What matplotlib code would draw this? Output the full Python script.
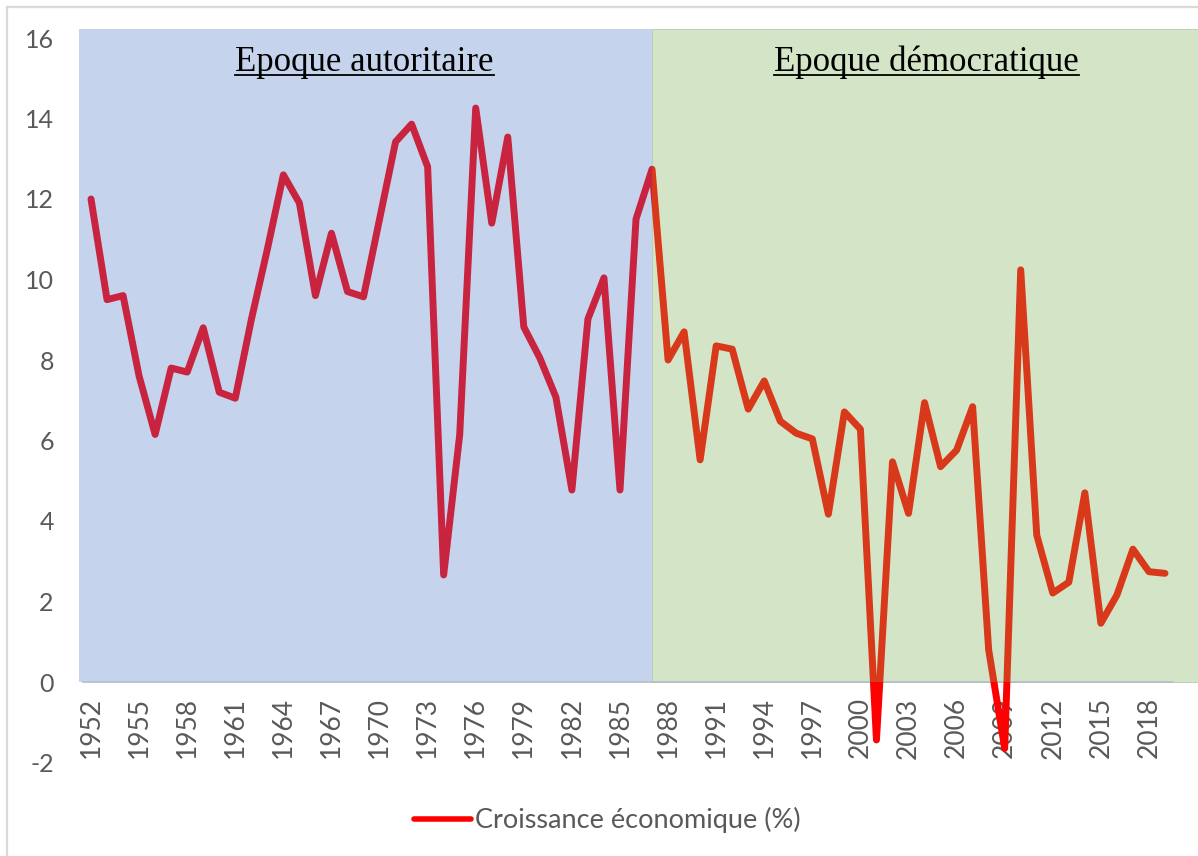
import matplotlib
matplotlib.use("Agg")
import matplotlib.pyplot as plt
from matplotlib.patches import Rectangle
from matplotlib.lines import Line2D

# croissance annuelle du PIB (%)
years = list(range(1952, 2020))
growth = [12.0, 9.5, 9.6, 7.6, 6.15, 7.8, 7.7, 8.8, 7.2, 7.05,
          9.0, 10.75, 12.6, 11.9, 9.6, 11.15, 9.7, 9.57, 11.5, 13.42,
          13.86, 12.8, 2.66, 6.14, 14.26, 11.4, 13.54, 8.82, 8.05, 7.08,
          4.77, 9.02, 10.04, 4.77, 11.5, 12.74, 8.0, 8.7, 5.52, 8.35,
          8.27, 6.78, 7.48, 6.48, 6.18, 6.04, 4.17, 6.71, 6.28, -1.44,
          5.47, 4.19, 6.94, 5.35, 5.76, 6.84, 0.8, -1.65, 10.24, 3.65,
          2.21, 2.48, 4.7, 1.46, 2.16, 3.3, 2.74, 2.7]
split_year = 1987
xtick_years = list(range(1952, 2020, 3))
yticks = list(range(-2, 17, 2))
periods = ["Epoque autoritaire", "Epoque démocratique"]

W, H = 1198, 856
fig = plt.figure(figsize=(W / 100, H / 100), dpi=100)
ax = fig.add_axes([83 / W, 1 - 762.5 / H, 1090 / W, 724.5 / H])
ax.set_xlim(1951.5, 2019.5)
ax.set_ylim(-2, 16)

sans = "Lato"
grey = "#595959"

# fonds des deux périodes
top = 16.22
ax.add_patch(Rectangle((1951.25, 0), split_year - 1951.25, top, facecolor="#c5d4ec",
                       edgecolor="none", zorder=0, clip_on=False))
ax.add_patch(Rectangle((split_year, 0), 2021.2 - split_year, top, facecolor="#d4e4c7",
                       edgecolor="#b5c8ad", lw=0.6, zorder=0, clip_on=False))

# courbe : trois couleurs selon la période et le signe
lw = 5
for color, (x0, y0, x1, y1) in [("#c8233f", (1940, 0, split_year, 30)),
                                ("#d8391a", (split_year, 0, 2030, 30)),
                                ("#ff0000", (1940, -10, 2030, 0))]:
    line, = ax.plot(years, growth, color=color, lw=lw, solid_joinstyle="round",
                    solid_capstyle="round", zorder=3)
    clip = Rectangle((x0, y0), x1 - x0, y1 - y0, transform=ax.transData)
    line.set_clip_path(clip)

for s in ["top", "right", "left"]:
    ax.spines[s].set_visible(False)
ax.spines["bottom"].set_position(("data", 0))
ax.spines["bottom"].set_color("#b4bcc8")
ax.spines["bottom"].set_linewidth(1.2)
ax.spines["bottom"].set_zorder(2)

ax.set_xticks(xtick_years)
ax.set_xticklabels([str(y) for y in xtick_years], rotation=90, fontsize=19,
                   color=grey, family=sans)
ax.set_yticks(yticks)
ax.set_yticklabels([str(v) for v in yticks], fontsize=18, color=grey, family=sans)
ax.tick_params(axis="x", length=0, pad=11)
ax.tick_params(axis="y", length=0, pad=21)

# titres soulignés
fig.canvas.draw()
renderer = fig.canvas.get_renderer()
for label, cx in zip(periods, [364.5, 926.5]):
    t = fig.text(cx / W, 1 - 71 / H, label, ha="center", va="baseline",
                 fontsize=25, family="Liberation Serif", color="black")
    bb = t.get_window_extent(renderer)
    y_u = (H - 74.5) / H
    fig.add_artist(Line2D([bb.x0 / W, bb.x1 / W], [y_u, y_u], color="black",
                          lw=1.3, transform=fig.transFigure))

# légende
fig.legend(handles=[Line2D([], [], color="#ff0000", lw=4, solid_capstyle="round")],
           labels=["Croissance économique (%)"], loc="center",
           bbox_to_anchor=(607 / W, 1 - 820 / H), frameon=False,
           handlelength=2.1, handletextpad=0.15,
           prop={"family": sans, "size": 19.5}, labelcolor=grey)

# cadre du graphique
fig.add_artist(Rectangle((7 / W, -0.05), 1.1, 1 - 7 / H + 0.05, fill=False,
                         edgecolor="#d9d9d9", lw=1.6, transform=fig.transFigure))

fig.savefig("out.png", dpi=100)
